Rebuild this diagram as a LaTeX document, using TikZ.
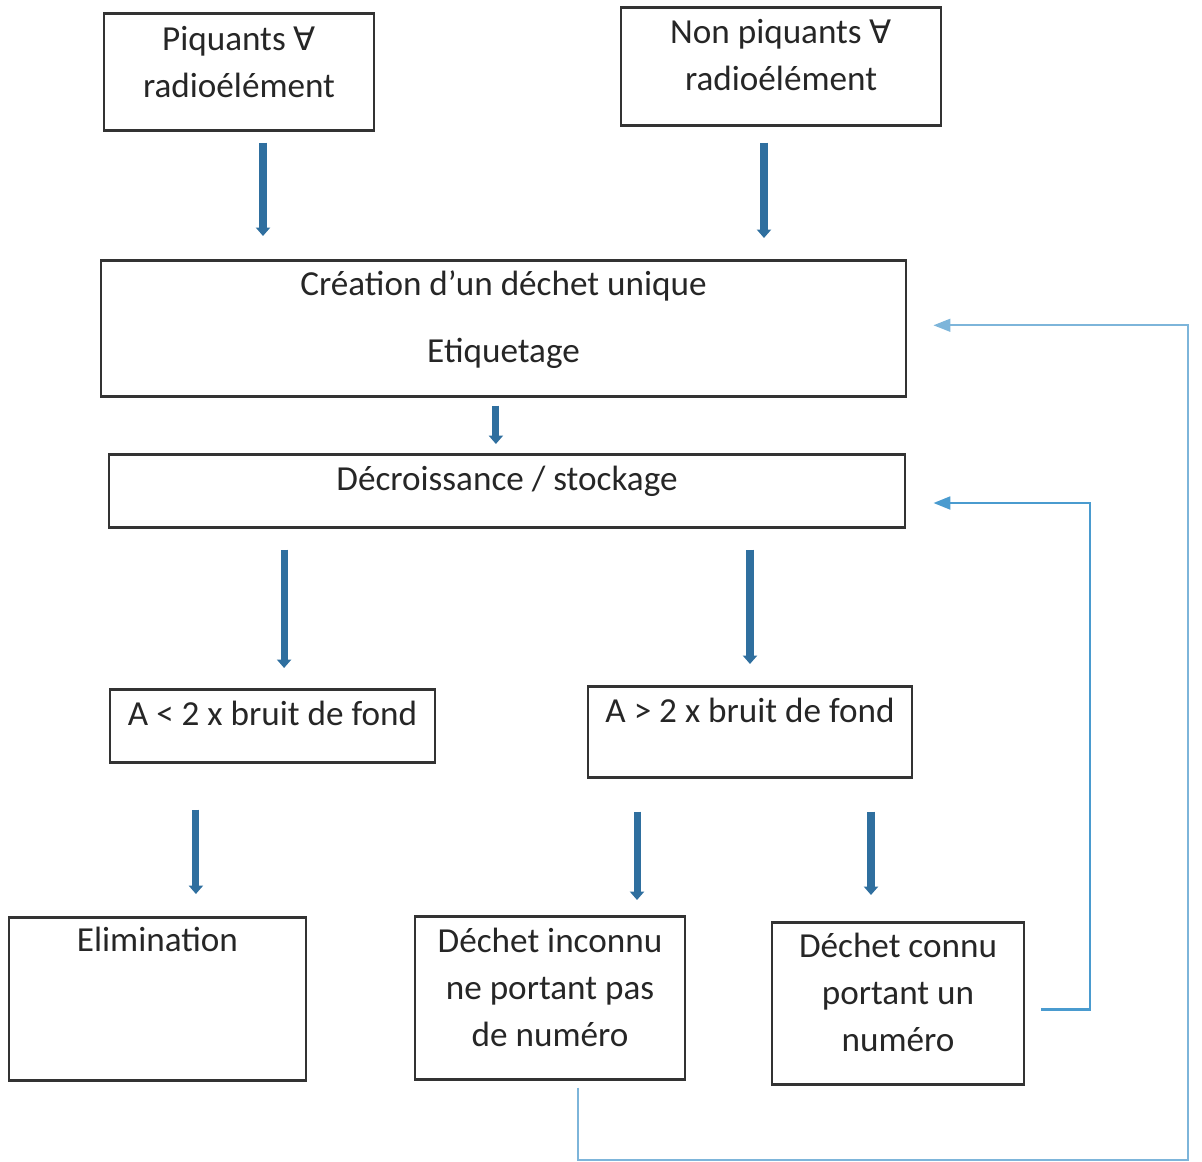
\documentclass[tikz,border=0pt]{standalone}
\usepackage{fontspec}
\setmainfont{Carlito}
\newfontfamily\symfont{DejaVu Sans}
\usetikzlibrary{arrows.meta}
\definecolor{flowblue}{HTML}{2F6F9F}
\definecolor{loopblue}{HTML}{4A9BCF}
\definecolor{loopfaint}{HTML}{7DB5DA}
\definecolor{boxgray}{HTML}{333333}
\tikzset{
  stepbox/.style={rectangle, draw=boxgray, line width=1.8pt, anchor=north, align=center,
    inner ysep=0pt, text height=0.9cm, text=black!85,
    font=\fontsize{25pt}{33.4pt}\selectfont},
  flow/.style={draw=flowblue, line width=5pt, -{Triangle[width=10pt,length=6pt]}},
  feedback/.style={draw=loopblue, line width=2pt, -{Triangle[width=9pt,length=12pt]}}
}
\newcommand{\anyrad}{{\symfont\fontsize{23pt}{24pt}\selectfont ∀}}
\begin{document}
\begin{tikzpicture}[x=0.025cm, y=-0.025cm]
  \useasboundingbox (0,0) rectangle (1202,1162);

  % entry boxes
  \node[stepbox, minimum width=6.75cm, text height=2.1cm, text depth=0.825cm] (piq) at (239,12) {Piquants \anyrad\\radioélément};
  \node[stepbox, minimum width=8cm, text height=2.075cm, text depth=0.875cm] (nonpiq) at (781,6) {Non piquants \anyrad\\radioélément};

  % treatment
  \node[stepbox, minimum width=20.125cm, text height=2.55cm, text depth=0.85cm] (crea) at (503.5,259) {Création d’un déchet unique\\[0.5cm]Etiquetage};
  \node[stepbox, minimum width=19.9cm, text depth=0.925cm] (decr) at (507,453) {Décroissance / stockage};

  % measurement
  \node[stepbox, minimum width=8.125cm, text depth=0.925cm] (alow) at (272.5,688) {A < 2 x bruit de fond};
  \node[stepbox, minimum width=8.1cm, text depth=1.375cm] (ahigh) at (750,685) {A > 2 x bruit de fond};

  % outcomes
  \node[stepbox, minimum width=7.425cm, text height=0.85cm, text depth=3.225cm] (elim) at (157.5,916) {Elimination};
  \node[stepbox, minimum width=6.75cm, text height=3.25cm, text depth=0.825cm] (inconnu) at (550,915) {Déchet inconnu\\ne portant pas\\de numéro};
  \node[stepbox, minimum width=6.3cm, text height=3.225cm, text depth=0.825cm] (connu) at (898,921) {Déchet connu\\portant un\\numéro};

  \coordinate (loopA) at (1090,503);
  \coordinate (loopB) at (1188,1160);

  % main flow
  \draw[flow, shorten <=0.275cm, shorten >=0.575cm] ([xshift=0.6cm]piq.south) -- ([xshift=0.6cm]piq.south |- crea.north);
  \draw[flow, shorten <=0.4cm, shorten >=0.525cm] ([xshift=-0.425cm]nonpiq.south) -- ([xshift=-0.425cm]nonpiq.south |- crea.north);
  \draw[flow, shorten <=0.2cm, shorten >=0.225cm] ([xshift=-0.19cm]crea.south) -- ([xshift=-0.19cm]crea.south |- decr.north);
  \draw[flow, shorten <=0.525cm, shorten >=0.5cm] ([xshift=0.29cm]alow.north |- decr.south) -- ([xshift=0.29cm]alow.north);
  \draw[flow, shorten <=0.525cm, shorten >=0.525cm] (ahigh.north |- decr.south) -- (ahigh.north);
  \draw[flow, shorten <=1.15cm, shorten >=0.55cm] ([xshift=0.96cm]elim.north |- alow.south) -- ([xshift=0.96cm]elim.north);
  \draw[flow, shorten <=0.825cm, shorten >=0.375cm] ([xshift=2.175cm]inconnu.north |- ahigh.south) -- ([xshift=2.175cm]inconnu.north);
  \draw[flow, shorten <=0.825cm, shorten >=0.65cm] ([xshift=-0.675cm]connu.north |- ahigh.south) -- ([xshift=-0.675cm]connu.north);

  % loops back
  \draw[feedback, shorten <=0.4cm, shorten >=0.675cm] ([yshift=-0.15cm]connu.east) -| (loopA) -- (loopA -| decr.east);
  \draw[feedback, draw=loopfaint, line width=1.5pt, shorten <=0.175cm, shorten >=0.65cm] ([xshift=0.7cm]inconnu.south) |- (loopB) |- ([yshift=0.075cm]crea.east);
\end{tikzpicture}
\end{document}
